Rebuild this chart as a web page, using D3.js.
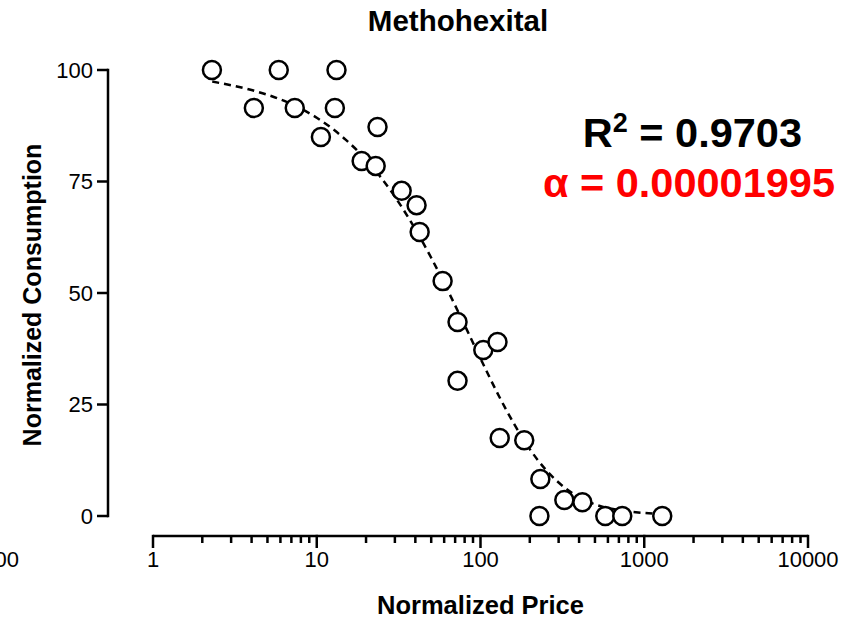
<!DOCTYPE html>
<html>
<head>
<meta charset="utf-8">
<script src="https://cdn.jsdelivr.net/npm/d3@7"></script>
<style>
  body { margin: 0; background: #fff; }
  text { font-family: "Liberation Sans", Arial, sans-serif; }
</style>
</head>
<body>
<script>
// size of the picture
let w = 848;
let h = 623;

// observed points (price, consumption)
let price = [2.29, 4.13, 5.86, 7.34, 13.2, 12.9, 10.6, 23.5, 18.8, 22.9,
             33.0, 40.7, 42.5, 58.7, 72.4, 72.4, 104, 127, 131, 185,
             232, 229, 325, 419, 578, 734, 1288];
let consumption = [100, 91.5, 100, 91.5, 100, 91.5, 85, 87.2, 79.6, 78.5,
                   72.9, 69.7, 63.7, 52.7, 43.5, 30.3, 37.2, 39, 17.5, 17,
                   8.3, 0, 3.6, 3.1, 0, 0, 0];

// fitted curve
let curvePrice = [2.3, 4, 6, 10, 15, 20, 30, 40, 50, 60, 80, 100, 130, 160,
                  200, 250, 300, 400, 500, 700, 1000, 1300];
let curveConsumption = [97.4, 95.5, 93.4, 89.3, 84.4, 79.9, 71.6, 64.3, 57.9, 52.2,
                        42.8, 35.3, 26.8, 20.7, 15.0, 10.4, 7.5, 4.2, 2.6, 1.3, 0.69, 0.49];

let xTicks = [1, 10, 100, 1000, 10000];
let yTicks = [0, 25, 50, 75, 100];

let svg = d3.select("body").append("svg")
    .attr("width", w)
    .attr("height", h);

let x = d3.scaleLog().domain([1, 10000]).range([153, 808]);
let y = d3.scaleLinear().domain([0, 100]).range([516, 70]);

// x axis with minor ticks
let minor = [];
for (let d = 1; d < 10000; d *= 10) {
    for (let k = 2; k <= 9; k++) minor.push(d * k);
}

let xg = svg.append("g").attr("transform", "translate(0,536)");
xg.append("line")
    .attr("x1", x(1)).attr("x2", x(10000))
    .attr("stroke", "#000").attr("stroke-width", 2.5);
xg.selectAll(".minor").data(minor).enter().append("line")
    .attr("x1", d => x(d)).attr("x2", d => x(d))
    .attr("y1", 0).attr("y2", 7)
    .attr("stroke", "#000").attr("stroke-width", 2.5);
xg.selectAll(".major").data(xTicks).enter().append("line")
    .attr("x1", d => x(d)).attr("x2", d => x(d))
    .attr("y1", -1.2).attr("y2", 12)
    .attr("stroke", "#000").attr("stroke-width", 2.5);
xg.selectAll(".lab").data(xTicks).enter().append("text")
    .attr("x", d => x(d)).attr("y", 31)
    .attr("text-anchor", "middle")
    .style("font-size", "22px")
    .text(d => d);

// leftover label from the neighbouring panel (cut off in the original too)
svg.append("text")
    .attr("x", 19).attr("y", 567)
    .attr("text-anchor", "end")
    .style("font-size", "22px")
    .text("10000");

// y axis
let yg = svg.append("g").attr("transform", "translate(108,0)");
yg.append("line")
    .attr("y1", y(0) + 1.2).attr("y2", y(100) - 1.2)
    .attr("stroke", "#000").attr("stroke-width", 2.5);
yg.selectAll(".tk").data(yTicks).enter().append("line")
    .attr("x1", -11).attr("x2", 0)
    .attr("y1", d => y(d)).attr("y2", d => y(d))
    .attr("stroke", "#000").attr("stroke-width", 2.5);
yg.selectAll(".lab").data(yTicks).enter().append("text")
    .attr("x", -15).attr("y", d => y(d))
    .attr("dy", "0.36em")
    .attr("text-anchor", "end")
    .style("font-size", "22px")
    .text(d => d);

// titles
svg.append("text")
    .attr("x", 458).attr("y", 31)
    .attr("text-anchor", "middle")
    .style("font-size", "29.5px").style("font-weight", "bold")
    .text("Methohexital");

svg.append("text")
    .attr("x", 480.5).attr("y", 614)
    .attr("text-anchor", "middle")
    .style("font-size", "25.5px").style("font-weight", "bold")
    .text("Normalized Price");

svg.append("text")
    .attr("transform", "translate(41,295) rotate(-90)")
    .attr("text-anchor", "middle")
    .style("font-size", "25px").style("font-weight", "bold")
    .text("Normalized Consumption");

// dashed fit curve
let line = d3.line()
    .x(d => x(d[0]))
    .y(d => y(d[1]))
    .curve(d3.curveMonotoneX);

svg.append("path")
    .datum(curvePrice.map((p, i) => [p, curveConsumption[i]]))
    .attr("d", line)
    .attr("fill", "none")
    .attr("stroke", "#000")
    .attr("stroke-width", 2.5)
    .attr("stroke-dasharray", "7,5");

// points
svg.selectAll("circle")
    .data(price.map((p, i) => [p, consumption[i]]))
    .enter().append("circle")
    .attr("cx", d => x(d[0]))
    .attr("cy", d => y(d[1]))
    .attr("r", 9)
    .attr("fill", "#fff")
    .attr("stroke", "#000")
    .attr("stroke-width", 2.5);

// annotations
let r2 = svg.append("text")
    .attr("x", 802).attr("y", 147)
    .attr("text-anchor", "end")
    .style("font-size", "41.5px").style("font-weight", "bold");
r2.append("tspan").text("R");
r2.append("tspan").attr("dy", -15).style("font-size", "27px").text("2");
r2.append("tspan").attr("dy", 15).text(" = 0.9703");

svg.append("text")
    .attr("x", 835).attr("y", 197)
    .attr("text-anchor", "end")
    .attr("fill", "#ff0000")
    .style("font-size", "41.5px").style("font-weight", "bold")
    .text("\u03b1 = 0.00001995");
</script>
</body>
</html>
